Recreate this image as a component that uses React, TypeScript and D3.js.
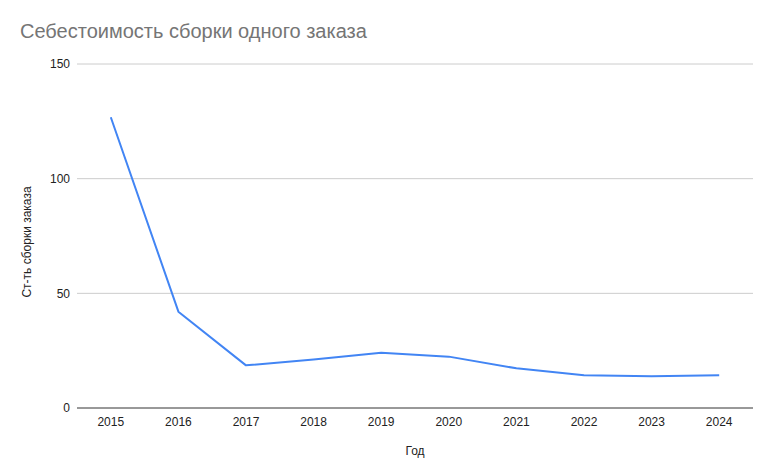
import React, { useEffect, useRef } from 'react';
import * as d3 from 'd3';

const years = ['2015', '2016', '2017', '2018', '2019', '2020', '2021', '2022', '2023', '2024'];
const costs = [126.8, 42, 18.6, 21.2, 24.1, 22.4, 17.3, 14.3, 13.8, 14.3];
const yTicks = [0, 50, 100, 150];

const W = 775;
const H = 474;
const FONT = 'Arial, "Liberation Sans", sans-serif';

export default function App() {
  const ref = useRef<SVGSVGElement>(null);

  useEffect(() => {
    if (!ref.current) return;
    const svg = d3.select(ref.current);
    svg.selectAll('*').remove();

    const margin = { top: 64, right: 22, bottom: 66, left: 77 };
    const width = W - margin.left - margin.right;
    const height = H - margin.top - margin.bottom;

    svg.append('rect').attr('width', W).attr('height', H).attr('fill', '#fff');

    // Title
    svg.append('text')
      .attr('x', 20)
      .attr('y', 38)
      .attr('font-family', FONT)
      .attr('font-size', 20)
      .attr('fill', '#757575')
      .text('Себестоимость сборки одного заказа');

    const g = svg.append('g').attr('transform', `translate(${margin.left},${margin.top})`);

    const x = d3.scalePoint<string>().domain(years).range([0, width]).padding(0.5);
    const y = d3.scaleLinear().domain([0, 150]).range([height, 0]);

    // Grid lines
    g.selectAll('line.grid')
      .data(yTicks.filter(t => t !== 0))
      .enter()
      .append('line')
      .attr('x1', 0)
      .attr('x2', width)
      .attr('y1', d => y(d))
      .attr('y2', d => y(d))
      .attr('stroke', '#cccccc')
      .attr('stroke-width', 1);

    // Y tick labels
    g.selectAll('text.ytick')
      .data(yTicks)
      .enter()
      .append('text')
      .attr('x', -7)
      .attr('y', d => y(d))
      .attr('dy', '0.35em')
      .attr('text-anchor', 'end')
      .attr('font-family', FONT)
      .attr('font-size', 12)
      .attr('fill', '#222')
      .text(d => d);

    // Baseline
    g.append('line')
      .attr('x1', 0)
      .attr('x2', width)
      .attr('y1', y(0))
      .attr('y2', y(0))
      .attr('stroke', '#333')
      .attr('stroke-width', 1);

    // X tick labels
    g.selectAll('text.xtick')
      .data(years)
      .enter()
      .append('text')
      .attr('x', d => x(d)!)
      .attr('y', height + 18)
      .attr('text-anchor', 'middle')
      .attr('font-family', FONT)
      .attr('font-size', 12)
      .attr('fill', '#222')
      .text(d => d);

    // Line
    const line = d3.line<number>()
      .x((_, i) => x(years[i])!)
      .y(d => y(d));

    g.append('path')
      .datum(costs)
      .attr('fill', 'none')
      .attr('stroke', '#4285f4')
      .attr('stroke-width', 2)
      .attr('stroke-linejoin', 'round')
      .attr('d', line);

    // Axis titles
    svg.append('text')
      .attr('x', margin.left + width / 2)
      .attr('y', 455)
      .attr('text-anchor', 'middle')
      .attr('font-family', FONT)
      .attr('font-size', 12)
      .attr('fill', '#222')
      .text('Год');

    svg.append('text')
      .attr('transform', `translate(31,${margin.top + height / 2 + 6}) rotate(-90)`)
      .attr('text-anchor', 'middle')
      .attr('font-family', FONT)
      .attr('font-size', 12)
      .attr('fill', '#222')
      .text('Ст-ть сборки заказа');
  }, []);

  return (
    <svg
      ref={ref}
      width={W}
      height={H}
      style={{ position: 'absolute', left: 0, top: 0 }}
    />
  );
}
